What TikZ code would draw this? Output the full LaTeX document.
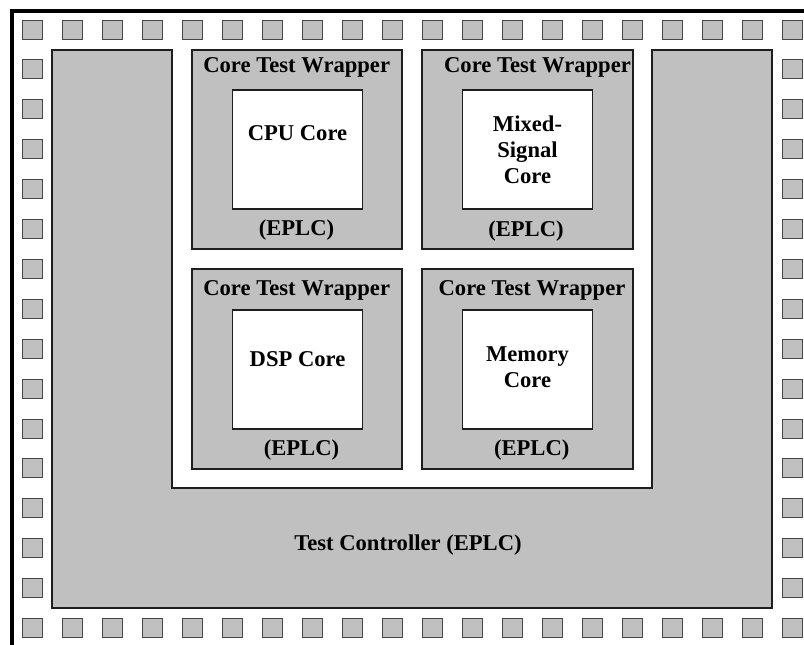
\documentclass[tikz,border=0pt]{standalone}
\usepackage{fontspec}
\setmainfont{Liberation Serif}
\definecolor{padgray}{HTML}{C0C0C0}
\definecolor{edge}{HTML}{1E1E1E}
\begin{document}
\begin{tikzpicture}[x=1pt,y=-1pt,
  pad/.style={draw=black!72, line width=0.9pt, fill=padgray, minimum width=20pt, minimum height=19pt, inner sep=0pt},
  wrapbox/.style={draw=edge, line width=1.3pt, fill=padgray, inner sep=0pt},
  corebox/.style={draw=edge, line width=1.3pt, fill=white, inner sep=0pt},
  lbl/.style={font=\fontsize{22.6}{26}\selectfont\bfseries, align=center, inner sep=0pt}]
\useasboundingbox (0,0) rectangle (804,645);
\fill[white] (0,0) rectangle (804,645);
% outer chip frame (continues beyond the right and bottom edges)
\draw[line width=4pt] (12,680) -- (12,10.5) -- (840,10.5);
% pads: top and bottom rows
\foreach \i in {0,...,19} {
  \node[pad] (pt\i) at ({32+40*\i},29.5) {};
  \node[pad] (pb\i) at ({32+40*\i},{29.5+39.9*15}) {};
}
% pads: left and right columns
\foreach \j in {1,...,14} {
  \node[pad] (pl\j) at (32,{29.5+39.9*\j}) {};
  \node[pad] (pr\j) at (792,{29.5+39.9*\j}) {};
}
% test controller (U shape)
\draw[wrapbox] (52,50) -- (172,50) -- (172,488) -- (652,488) -- (652,50) -- (772,50) -- (772,608) -- (52,608) -- cycle;
\node[lbl] (tc) at (408,545) {Test Controller (EPLC)};
% wrappers
\node[wrapbox, minimum width=210pt, minimum height=199pt] (w1) at (297,149.5) {};
\node[wrapbox, minimum width=211pt, minimum height=199pt] (w2) at (527.5,149.5) {};
\node[wrapbox, minimum width=210pt, minimum height=200pt] (w3) at (297,369) {};
\node[wrapbox, minimum width=211pt, minimum height=200pt] (w4) at (527.5,369) {};
% cores
\node[corebox, minimum width=129.5pt, minimum height=119pt] (c1) at (297.5,149.5) {};
\node[corebox, minimum width=130pt, minimum height=119pt] (c2) at (527.2,149.5) {};
\node[corebox, minimum width=129.5pt, minimum height=119pt] (c3) at (297.5,369.5) {};
\node[corebox, minimum width=130pt, minimum height=119pt] (c4) at (527.5,369.5) {};
% wrapper titles
\node[lbl] (t1) at (296.7,67) {Core Test Wrapper};
\node[lbl] (t2) at (537.5,67) {Core Test Wrapper};
\node[lbl] (t3) at (296.7,290) {Core Test Wrapper};
\node[lbl] (t4) at (532,290) {Core Test Wrapper};
% EPLC labels
\node[lbl] (e1) at (296.5,230) {(EPLC)};
\node[lbl] (e2) at (526,231) {(EPLC)};
\node[lbl] (e3) at (301.5,450) {(EPLC)};
\node[lbl] (e4) at (531.7,450) {(EPLC)};
% core names
\node[lbl] (n1) at (297.5,133) {CPU Core};
\node[lbl] (n2) at (527.5,150) {Mixed-\\Signal\\Core};
\node[lbl] (n3) at (297.5,359) {DSP Core};
\node[lbl] (n4) at (527.5,367) {Memory\\Core};
\end{tikzpicture}
\end{document}
